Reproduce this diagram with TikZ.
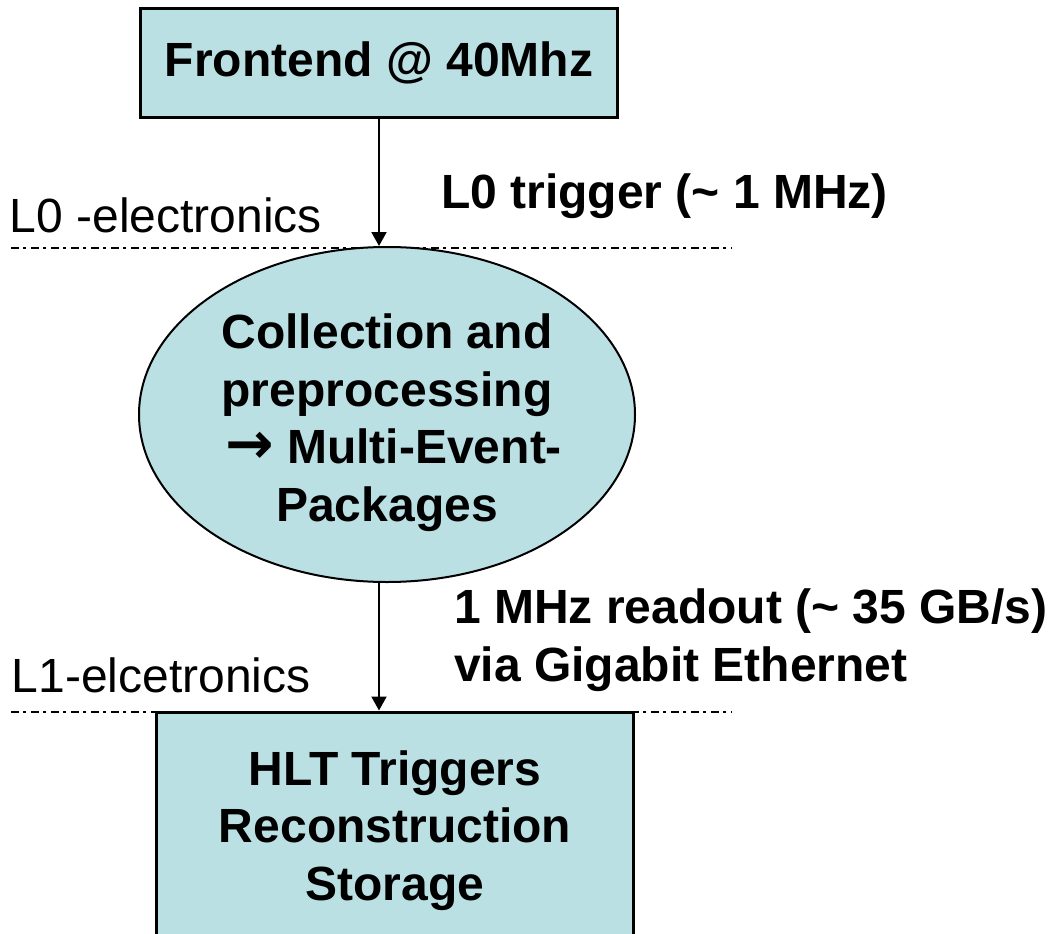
\documentclass[tikz,border=0pt]{standalone}
\usepackage{fontspec}
\setmainfont{Liberation Sans}
\newfontfamily\arrowfont{DejaVu Sans}
\usetikzlibrary{shapes.geometric,arrows.meta}
\definecolor{boxfill}{RGB}{187,224,227}
\tikzset{
  bigtext/.style={font=\fontsize{48}{57.6}\selectfont},
  boldtext/.style={font=\bfseries\fontsize{48}{57.6}\selectfont},
  stage/.style={draw=black, line width=3pt, fill=boxfill, align=center, inner sep=0pt, boldtext},
  pool/.style={ellipse, draw=black, line width=2pt, fill=boxfill, inner sep=0pt},
  flow/.style={-{Triangle[width=15pt,length=14pt]}, line width=2pt},
  level/.style={line width=1.5pt, dash pattern=on 8pt off 4pt on 3pt off 5pt},
  levellabel/.style={anchor=base west, inner sep=0pt, bigtext},
  ratelabel/.style={anchor=base west, inner sep=0pt, align=left, boldtext},
}
\begin{document}
\begin{tikzpicture}[x=1pt,y=-1pt]
\useasboundingbox (0,0) rectangle (1052,934);
\begin{scope}
\clip (0,0) rectangle (1052,934);

% electronics level separators
\coordinate (l0a) at (11,248);
\coordinate (l0b) at (732,248);
\coordinate (l1a) at (11,712);
\coordinate (l1b) at (732,712);
\draw[level] (l0a) -- (l0b);
\draw[level] (l1a) -- (l1b);

% processing stages
\node[stage, minimum width=477, minimum height=109] (fe) at (379,63) {Frontend @ 40Mhz};
\node[pool, minimum width=496, minimum height=335] (mep) at (387,414.5) {};
\node[align=center, inner sep=0pt, boldtext] (meptext) at ([yshift=-8pt]mep.center)
  {Collection and~\\preprocessing\\~{\arrowfont\fontsize{58}{57.6}\selectfont →} Multi-Event-\\Packages};
\node[stage, minimum width=477, minimum height=237] (hlt) at (395,830.5)
  {HLT Triggers\\Reconstruction\\Storage};

% data flow
\draw[flow] (fe.south) -- (fe.south |- mep.north);
\draw[flow] (mep.south -| fe.south) -- (hlt.north -| fe.south);

% labels
\node[levellabel] (l0) at (9.5,232) {L0 -electronics};
\node[levellabel] (l1) at (11.5,692) {L1-elcetronics};
\node[ratelabel] (trig) at (441,208) {L0 trigger (\textasciitilde{} 1 MHz)};
\node[ratelabel] (ro) at (454,681) {1 MHz readout (\textasciitilde{} 35 GB/s)\\via Gigabit Ethernet};
\end{scope}
\end{tikzpicture}
\end{document}
